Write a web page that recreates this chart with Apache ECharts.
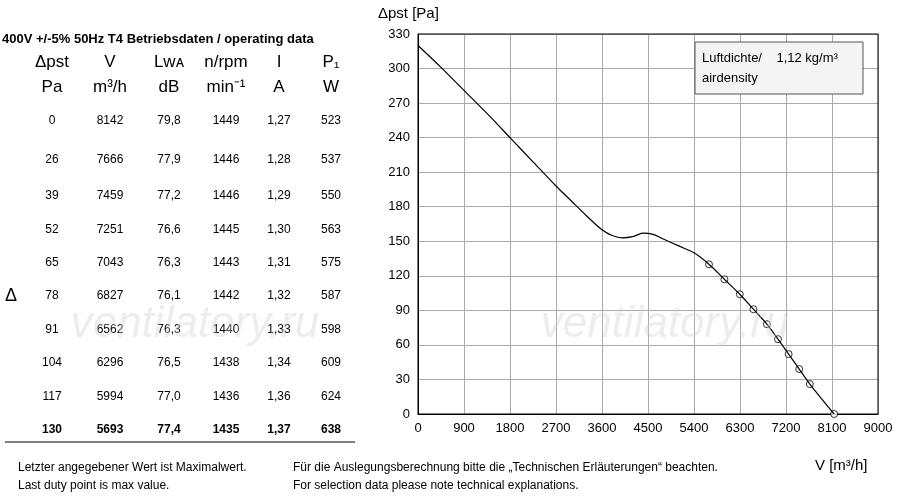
<!DOCTYPE html>
<html>
<head><meta charset="UTF-8"><title>fan curve</title>
<script src="https://cdn.jsdelivr.net/npm/echarts@6/dist/echarts.min.js"></script>
</head>
<body style="margin:0">
<div id="chart" style="width:900px;height:500px"></div>
<script>
// characteristic curve (V m3/h, dp Pa)
const curve = [[0,320],[450,301],[900,281],[1350,261],[1800,240],[2250,219],[2700,198],[3000,185],[3300,172],[3600,160],[3800,155],[4000,153],[4200,154],[4400,157],[4600,156],[4800,152],[5100,146],[5400,140],[5693,130],[5994,117],[6296,104],[6562,91],[6827,78],[7043,65],[7251,52],[7459,39],[7666,26],[8142,0]];
const dpst = [0,26,39,52,65,78,91,104,117,130];
const flow = [8142,7666,7459,7251,7043,6827,6562,6296,5994,5693];
const lwa = ['79,8','77,9','77,2','76,6','76,3','76,1','76,3','76,5','77,0','77,4'];
const rpm = [1449,1446,1446,1445,1443,1442,1440,1438,1436,1435];
const amps = ['1,27','1,28','1,29','1,30','1,31','1,32','1,33','1,34','1,36','1,37'];
const power = [523,537,550,563,575,587,598,609,624,638];

const font = 'Liberation Sans, Arial, sans-serif';
const colX = [52,110,169,226,279,331];
const rowY = [121,160,196,230,263,296,330,363,397,430];
const g = [];
const txt = (x,y,s,opt={}) => g.push({type:'text',x:x,y:y,z:10,style:Object.assign({text:s,fill:'#000',font:'13px '+font,align:'center',verticalAlign:'middle'},opt)});
txt(2,39,'400V +/-5% 50Hz T4 Betriebsdaten / operating data',{align:'left',font:'bold 13px '+font});
['\u0394pst','V','L\u1d21\u1d00','n/rpm','I','P\u2081'].forEach((s,i)=>txt(colX[i],62,s,{font:'17px '+font}));
['Pa','m\u00b3/h','dB','min\u207b\u00b9','A','W'].forEach((s,i)=>txt(colX[i],87,s,{font:'17px '+font}));
dpst.forEach((d,r)=>{
  const f = r===9 ? 'bold 12px '+font : '12px '+font;
  [d,flow[r],lwa[r],rpm[r],amps[r],power[r]].forEach((v,i)=>txt(colX[i],rowY[r],String(v),{font:f}));
});
txt(11,296,'\u0394',{font:'18px '+font});
g.push({type:'line',shape:{x1:5,y1:442,x2:355,y2:442},style:{stroke:'#000',lineWidth:1}});
txt(18,468,'Letzter angegebener Wert ist Maximalwert.',{align:'left',font:'12px '+font});
txt(18,486,'Last duty point is max value.',{align:'left',font:'12px '+font});
txt(293,468,'F\u00fcr die Auslegungsberechnung bitte die \u201eTechnischen Erl\u00e4uterungen\u201c beachten.',{align:'left',font:'12px '+font});
txt(293,486,'For selection data please note technical explanations.',{align:'left',font:'12px '+font});
g.push({type:'rect',z:9,shape:{x:695,y:42,width:168,height:52},style:{fill:'#f4f4f4',stroke:'#555',lineWidth:1}});
txt(702,58,'Luftdichte/    1,12 kg/m\u00b3',{align:'left',font:'13px '+font});
txt(702,78,'airdensity',{align:'left',font:'13px '+font});
txt(378,14,'\u0394pst [Pa]',{align:'left',font:'15px '+font});
txt(815,466,'V [m\u00b3/h]',{align:'left',font:'15px '+font});
txt(195,325,'ventilatory.ru',{font:'italic 44px '+font,fill:'rgba(210,210,210,0.4)'});
txt(665,325,'ventilatory.ru',{font:'italic 44px '+font,fill:'rgba(210,210,210,0.4)'});
g.push({type:'rect',z:1,shape:{x:418,y:34,width:460,height:380},style:{fill:'none',stroke:'#000',lineWidth:1}});

const chart = echarts.init(document.getElementById('chart'));
chart.setOption({
  animation:false,
  grid:{left:418,right:22,top:34,bottom:86},
  xAxis:{type:'value',min:0,max:9000,interval:900,
    axisLine:{lineStyle:{color:'#000'}},axisTick:{show:false},
    axisLabel:{color:'#000',fontSize:13,fontFamily:font,formatter:v=>String(v)},
    splitLine:{lineStyle:{color:'#aaa'}}},
  yAxis:{type:'value',min:0,max:330,interval:30,
    axisLine:{show:true,lineStyle:{color:'#000'}},axisTick:{show:false},
    axisLabel:{color:'#000',fontSize:13,fontFamily:font},
    splitLine:{lineStyle:{color:'#aaa'}}},
  graphic:g,
  series:[
    {type:'line',data:curve,smooth:0.3,showSymbol:false,lineStyle:{color:'#000',width:1.2}},
    {type:'scatter',data:flow.map((v,i)=>[v,dpst[i]]),symbol:'circle',symbolSize:7,
     itemStyle:{color:'#fff',borderColor:'#000',borderWidth:1}}
  ]
});
</script>
</body>
</html>
